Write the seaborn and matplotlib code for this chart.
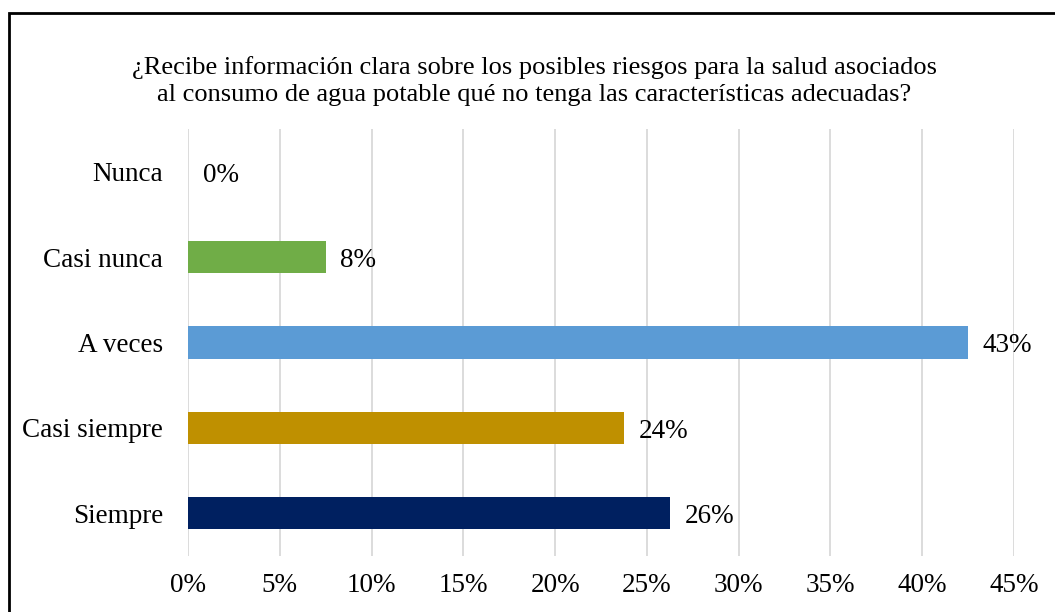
import matplotlib.pyplot as plt
from matplotlib.patches import Rectangle
from matplotlib.ticker import FuncFormatter, MultipleLocator
import seaborn as sns
import pandas as pd

categorias = ['Nunca', 'Casi nunca', 'A veces', 'Casi siempre', 'Siempre']
valores = [0.0, 7.5, 42.5, 23.75, 26.25]
etiquetas = ['0%', '8%', '43%', '24%', '26%']
colores = ['#A5A5A5', '#70AD47', '#5B9BD5', '#BF9000', '#002060']
titulo = (u'¿Recibe información clara sobre los posibles riesgos para la salud asociados\n'
          u'al consumo de agua potable qué no tenga las características adecuadas?')

df = pd.DataFrame({'cat': categorias, 'val': valores})

sns.set_style('white')
plt.rcParams['font.family'] = ['Liberation Serif', 'DejaVu Serif']
plt.rcParams['text.color'] = 'black'

fig = plt.figure(figsize=(10.55, 6.12), dpi=100)
ax = fig.add_axes([188/1055, 1-556/612, (1014-188)/1055, (556-129)/612])

sns.barplot(data=df, x='val', y='cat', hue='cat', palette=colores, legend=False,
            orient='h', width=0.375, saturation=1, linewidth=0, ax=ax)

ax.set_xlim(0, 45)
ax.xaxis.set_major_locator(MultipleLocator(5))
ax.xaxis.set_major_formatter(FuncFormatter(lambda v, p: '%d%%' % round(v)))
ax.grid(axis='x', color='#D9D9D9', linewidth=1.3)
ax.set_axisbelow(True)
for s in ax.spines.values():
    s.set_visible(False)
ax.tick_params(axis='both', length=0, labelsize=19.5, colors='black')
ax.tick_params(axis='x', pad=12)
ax.tick_params(axis='y', pad=18)
ax.set_xlabel('')
ax.set_ylabel('')

for i, (v, t) in enumerate(zip(valores, etiquetas)):
    ax.text(v + 0.8, i + 0.04, t, va='center', ha='left', fontsize=19.5, color='black')

fig.text(534/1055, 1-81/612, titulo, ha='center', va='center', fontsize=19,
         linespacing=1.3, color='black')

fig.patches.append(Rectangle((9/1055, -0.1), 1.1, 1-13/612+0.1, transform=fig.transFigure,
                             fill=False, edgecolor='black', linewidth=2))

fig.savefig('out.png', dpi=100)
